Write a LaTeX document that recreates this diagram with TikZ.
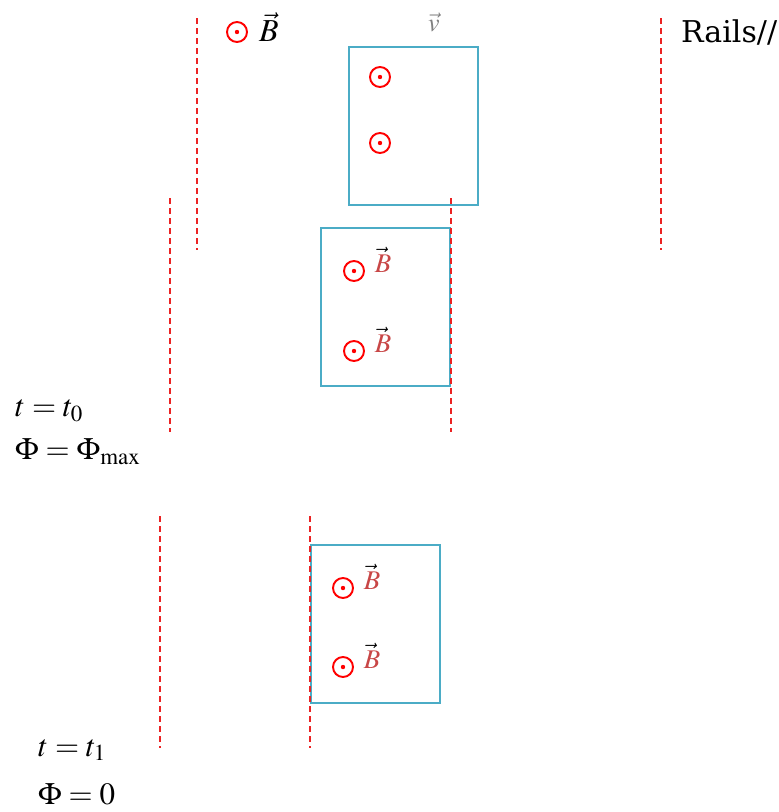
\documentclass[tikz,border=0pt]{standalone}
\usepackage{mathptmx}
\usepackage{fontspec}
\usetikzlibrary{positioning}
\newfontfamily\railfont{DejaVu Serif}
\definecolor{railred}{RGB}{235,35,35}
\definecolor{framecol}{RGB}{75,172,198}
\definecolor{bred}{RGB}{200,70,70}
\begin{document}
\begin{tikzpicture}[x=1pt,y=-1pt,line cap=butt,line join=miter,
		rail/.style={railred,dash pattern=on 6pt off 4pt,line width=1.8pt},
		frame/.style={draw=framecol,line width=1.7pt,anchor=north west,minimum width=129pt,minimum height=158pt,inner sep=0pt},
		dotB/.style={circle,draw=red,line width=1.9pt,minimum size=20pt,inner sep=0pt,
			path picture={\fill[red] (path picture bounding box.center) circle (2.2pt);}},
		bvec/.style={font=\fontsize{27}{28}\selectfont,inner sep=0pt},
		eq/.style={font=\fontsize{31}{34}\selectfont,anchor=west,inner sep=0pt}]
	\useasboundingbox (0,0) rectangle (779,812);
	% rails at the three moments
	\foreach \xa/\xb/\ya/\yb/\n in {197/661/18/250/1,170/451/198/432/2,160/310/516/748/3}{
		\coordinate (l\n a) at (\xa,\ya);
		\coordinate (l\n b) at (\xa,\yb);
		\coordinate (r\n a) at (\xb,\ya);
		\coordinate (r\n b) at (\xb,\yb);
	}
	% frames
	\node[frame] (f1) at (348,46) {};
	\node[frame] (f2) at (320,227) {};
	\node[frame] (f3) at (310,544) {};
	\foreach \n in {1,2,3}{
		\draw[rail] (l\n a) -- (l\n b);
		\draw[rail] (r\n a) -- (r\n b);
	}
	% field symbols
	\node[dotB] (d0) at (237,32) {};
	\node[font=\fontsize{32}{34}\selectfont,inner sep=0pt] (B0) at (269,27) {$\vec{B}$};
	\node[dotB] (d1a) at (380,77) {};
	\node[dotB] (d1b) at (380,143) {};
	\node[font=\fontsize{26}{28}\selectfont,text=gray,inner sep=0pt] (v) at (434,22) {$\vec{v}$};
	\foreach \n/\x/\ya/\yb in {2/354/271/351,3/343/588/667}{
		\node[dotB] (d\n a) at (\x,\ya) {};
		\node[dotB] (d\n b) at (\x,\yb) {};
		\node[bvec] (b\n a) at ([xshift=29pt,yshift=11pt]d\n a) {$\vec{\textcolor{bred}{B}}$};
		\node[bvec] (b\n b) at ([xshift=29pt,yshift=11pt]d\n b) {$\vec{\textcolor{bred}{B}}$};
	}
	\node[font=\railfont\fontsize{30}{32}\selectfont,anchor=west,inner sep=0pt] (rails) at (681,32) {Rails//};
	% flux labels
	\node[eq] (t0) at (15,411) {$t=t_{0}$};
	\node[eq] (p0) at (15,452) {$\Phi=\Phi_{\mathrm{max}}$};
	\node[eq] (t1) at (38,750) {$t=t_{1}$};
	\node[eq] (p1) at (38,794) {$\Phi=0$};
\end{tikzpicture}
\end{document}
